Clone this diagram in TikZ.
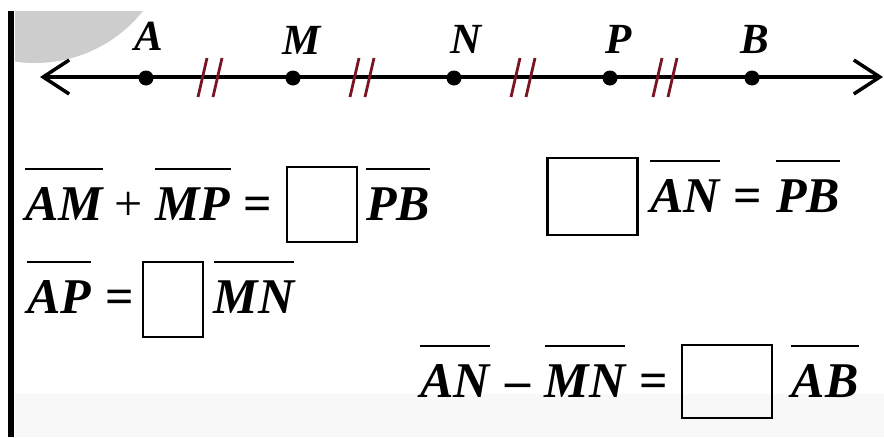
\documentclass[tikz,border=0pt]{standalone}
\usepackage{fontspec}
\usetikzlibrary{arrows.meta}
\newfontfamily\eqrm{Liberation Serif}
\definecolor{tickred}{HTML}{7A1422}
\definecolor{discgray}{HTML}{CDCDCD}
\definecolor{bandgray}{HTML}{F8F8F8}
\begin{document}
\begin{tikzpicture}[x=1pt,y=-1pt,
  term/.style={inner sep=0pt,anchor=base,font=\fontsize{50}{56}\selectfont\eqrm\bfseries\itshape},
  opsym/.style={inner sep=0pt,anchor=base,font=\fontsize{50}{56}\selectfont\eqrm\bfseries},
  thinop/.style={inner sep=0pt,anchor=base,font=\fontsize{50}{56}\selectfont\eqrm},
  blank/.style={draw,line width=2.8pt,inner sep=0pt},
  ovl/.style={line width=2.8pt},
  dot/.style={circle,fill=black,inner sep=0pt,minimum size=15pt},
  ptlabel/.style={inner sep=0pt,anchor=base,font=\fontsize{43}{48}\selectfont\eqrm\bfseries\itshape},
  tick/.style={draw=tickred,line width=2.8pt}]
\useasboundingbox (0,0) rectangle (884,437);
\fill[white] (0,0) rectangle (884,437);
% grey disc and bottom band
\begin{scope}
  \clip (15,11) rectangle (884,437);
  \fill[discgray] (35,-75) circle[radius=138];
\end{scope}
\fill[bandgray] (15,394) rectangle (884,437);
\fill[black] (8,11) rectangle (14,437);
% number line
\coordinate (L) at (40,77);
\coordinate (R) at (883,77);
\draw[line width=3.5pt,{Straight Barb[length=26pt,width=34pt,line width=3.5pt]}-{Straight Barb[length=26pt,width=34pt,line width=3.5pt]}] (L) -- (R);
\node[dot] (pA) at (146,78) {};
\node[dot] (pM) at (293,78) {};
\node[dot] (pN) at (454,78) {};
\node[dot] (pP) at (610,78) {};
\node[dot] (pB) at (752,78) {};
\node[ptlabel] (lA) at (149,50) {A};
\node[ptlabel] (lM) at (302,54) {M};
\node[ptlabel] (lN) at (466,53) {N};
\node[ptlabel] (lP) at (619,53) {P};
\node[ptlabel] (lB) at (755,53) {B};
% tick marks
\foreach \cx in {210,362,523,665}{
  \draw[tick] (\cx-12,97) -- (\cx-3,58);
  \draw[tick] (\cx+3,97) -- (\cx+12,58);
}
% line 1
\node[term] (t1) at (64,220) {AM};
\node[thinop] (o1) at (129,220) {+};
\node[term] (t2) at (193,220) {MP};
\node[opsym] (o2) at (258,220) {=};
\node[blank,minimum width=70pt,minimum height=75pt] (b1) at (322,204.5) {};
\node[term] (t3) at (398,220) {PB};
% line 2
\node[term] (t4) at (59,313) {AP};
\node[opsym] (o3) at (120,313) {=};
\node[blank,minimum width=60pt,minimum height=75pt] (b2) at (173,299.5) {};
\node[term] (t5) at (254,313) {MN};
% right top
\node[blank,minimum width=90pt,minimum height=77pt] (b3) at (592.5,196.5) {};
\node[term] (t6) at (685,212) {AN};
\node[opsym] (o4) at (748,212) {=};
\node[term] (t7) at (808,212) {PB};
% line 3
\node[term] (t8) at (455,397) {AN};
\node[opsym] (o5) at (518,397) {\textendash};
\node[term] (t9) at (585,397) {MN};
\node[opsym] (o6) at (654,397) {=};
\node[blank,minimum width=90pt,minimum height=73pt] (b4) at (727,381.5) {};
\node[term] (t10) at (825,397) {AB};
% overlines
\foreach \t in {t1,t2,t3,t4,t5,t6,t7,t8,t9,t10}{
  \draw[ovl] ([yshift=51pt]\t.base west) -- ([yshift=51pt]\t.base east);
}
\end{tikzpicture}
\end{document}
